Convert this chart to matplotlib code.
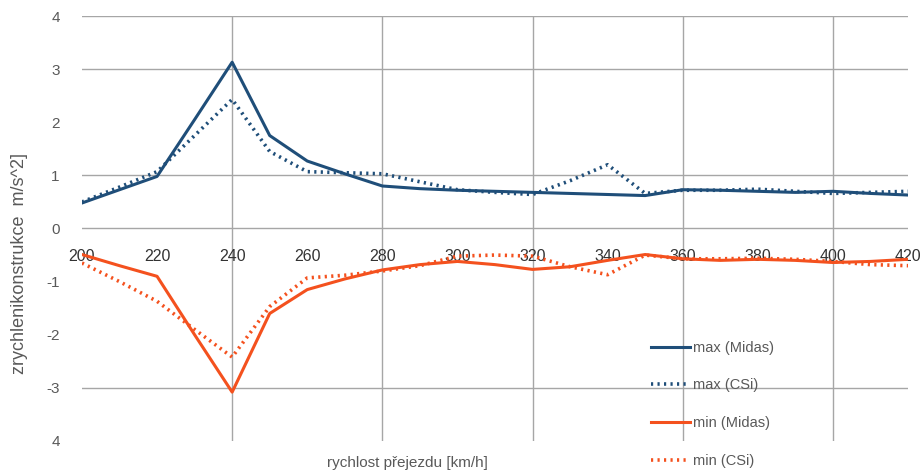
import matplotlib
matplotlib.use('Agg')
import matplotlib.pyplot as plt

# rychlost [km/h]
SPEED = [200, 210, 220, 230, 240, 250, 260, 270, 280, 290, 300, 310,
         320, 330, 340, 350, 360, 370, 380, 390, 400, 410, 420]

MAX_MIDAS = [0.48, 0.73, 0.98, 2.05, 3.13, 1.75, 1.27, 1.03, 0.80, 0.75,
             0.72, 0.70, 0.68, 0.66, 0.64, 0.62, 0.73, 0.72, 0.70, 0.68,
             0.70, 0.66, 0.63]
MAX_CSI = [0.50, 0.78, 1.07, 1.75, 2.43, 1.45, 1.07, 1.05, 1.03, 0.88,
           0.73, 0.68, 0.64, 0.90, 1.20, 0.66, 0.72, 0.72, 0.74, 0.70,
           0.66, 0.68, 0.70]
MIN_MIDAS = [-0.49, -0.70, -0.90, -2.00, -3.08, -1.60, -1.15, -0.95, -0.78,
             -0.68, -0.62, -0.68, -0.77, -0.72, -0.60, -0.49, -0.57, -0.60,
             -0.58, -0.60, -0.64, -0.62, -0.58]
MIN_CSI = [-0.65, -1.00, -1.37, -1.90, -2.42, -1.47, -0.93, -0.88, -0.80,
           -0.70, -0.52, -0.50, -0.52, -0.72, -0.87, -0.50, -0.57, -0.57,
           -0.56, -0.58, -0.62, -0.68, -0.70]

X_TICKS = list(range(200, 421, 20))
Y_TICKS = [4, 3, 2, 1, 0, -1, -2, -3, -4]
Y_LABELS = ['4', '3', '2', '1', '0', '-1', '-2', '-3', '4']

BLUE = '#1F4E79'
ORANGE = '#F4511E'
GRID = '#A6A6A6'
TEXT = '#595959'

plt.rcParams['font.family'] = ['Liberation Sans', 'DejaVu Sans']

fig = plt.figure(figsize=(9.24, 4.75), dpi=100)
ax = fig.add_axes([0.0887, 0.0716, 0.894, 0.8947])

# only some gridlines show in the original
for y in [4, 3, 1, 0, -3]:
    ax.axhline(y, color=GRID, lw=1, zorder=1)
for x in [240, 280, 320, 360, 400]:
    ax.axvline(x, color=GRID, lw=1, zorder=1)

ax.plot(SPEED, MAX_MIDAS, color=BLUE, lw=2.2, label='max (Midas)', zorder=3)
ax.plot(SPEED, MAX_CSI, color=BLUE, lw=2.6, ls=(0, (0.6, 1.2)),
        label='max (CSi)', zorder=3)
ax.plot(SPEED, MIN_MIDAS, color=ORANGE, lw=2.2, label='min (Midas)', zorder=3)
ax.plot(SPEED, MIN_CSI, color=ORANGE, lw=2.6, ls=(0, (0.6, 1.2)),
        label='min (CSi)', zorder=3)

ax.set_xlim(200, 420)
ax.set_ylim(-4, 4)
ax.set_yticks(Y_TICKS)
ax.set_yticklabels(Y_LABELS)
ax.set_xticks(X_TICKS)

for s in ax.spines.values():
    s.set_visible(False)
ax.spines['bottom'].set_position(('data', 0))
ax.tick_params(axis='both', length=0, labelsize=11, labelcolor=TEXT)
ax.tick_params(axis='x', pad=15, labelsize=11.5, labelcolor='#333333')
ax.tick_params(axis='y', pad=16)

fig.text(407 / 924, 1 - 463 / 475, 'rychlost přejezdu [km/h]', ha='center',
         va='center', fontsize=11, color=TEXT)
fig.text(20 / 924, 1 - 263 / 475, 'zrychlenikonstrukce  m/s^2]', ha='center',
         va='center', rotation=90, fontsize=13, color=TEXT)

fig.legend(loc='upper left', bbox_to_anchor=(645 / 924, 1 - 335 / 475),
           frameon=False, fontsize=10.5, labelcolor=TEXT, handlelength=2.7,
           handletextpad=0.2, labelspacing=1.62, borderaxespad=0)

fig.savefig('out.png', dpi=100)
